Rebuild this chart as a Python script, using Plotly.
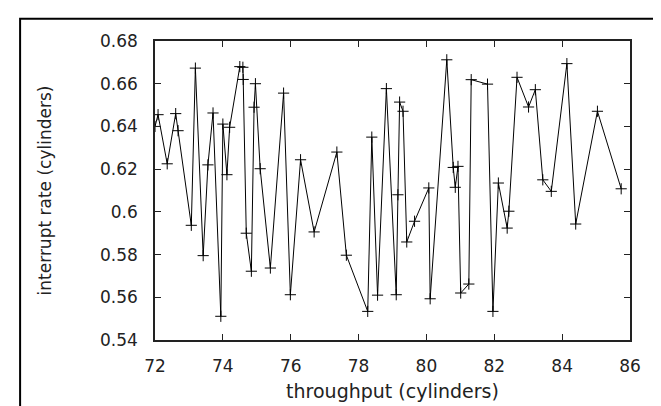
import plotly.graph_objects as go

# throughput vs interrupt rate
throughput = [72.0, 72.09, 72.36, 72.61, 72.68, 73.07, 73.19, 73.42, 73.56, 73.71,
              73.94, 74.0, 74.12, 74.2, 74.5, 74.59, 74.6, 74.69, 74.84, 74.92,
              74.96, 75.1, 75.4, 75.79, 75.99, 76.29, 76.69, 77.36, 77.64, 78.27,
              78.39, 78.56, 78.82, 79.11, 79.16, 79.21, 79.31, 79.42, 79.65, 80.07,
              80.11, 80.6, 80.79, 80.85, 80.93, 81.01, 81.25, 81.32, 81.8, 81.96,
              82.12, 82.38, 82.43, 82.67, 83.01, 83.21, 83.43, 83.68, 84.14, 84.4,
              85.04, 85.74]
interrupt_rate = [0.640, 0.6455, 0.6225, 0.646, 0.638, 0.5937, 0.6673, 0.5795, 0.622, 0.6463,
                  0.5511, 0.6411, 0.6174, 0.6396, 0.668, 0.6677, 0.662, 0.590, 0.5722, 0.649,
                  0.660, 0.6202, 0.5737, 0.6556, 0.5612, 0.6244, 0.5906, 0.628, 0.5797, 0.5534,
                  0.635, 0.561, 0.6577, 0.5612, 0.608, 0.6514, 0.6471, 0.5859, 0.5956, 0.6112,
                  0.5593, 0.6712, 0.6208, 0.6115, 0.6213, 0.562, 0.5662, 0.6619, 0.6598, 0.5534,
                  0.6135, 0.5924, 0.6003, 0.663, 0.6491, 0.6572, 0.615, 0.6096, 0.6694, 0.5943,
                  0.6471, 0.6108]

x_ticks = [72, 74, 76, 78, 80, 82, 84, 86]
y_ticks = [0.54, 0.56, 0.58, 0.6, 0.62, 0.64, 0.66, 0.68]
y_labels = ["0.54", "0.56", "0.58", "0.6", "0.62", "0.64", "0.66", "0.68"]

fig = go.Figure(go.Scatter(
    x=throughput, y=interrupt_rate,
    mode='lines+markers',
    line=dict(color='black', width=1),
    marker=dict(symbol='cross-thin', size=8, line=dict(color='black', width=1), color='black'),
    showlegend=False
))

axis_style = dict(
    showgrid=False, zeroline=False,
    showline=True, linecolor='#222', linewidth=1.5,
    mirror='ticks', ticks='inside', ticklen=6, tickcolor='#222', tickwidth=1,
    tickfont=dict(family='DejaVu Sans', size=17, color='#222'),
)

fig.update_layout(
    width=661, height=406,
    margin=dict(l=147, r=39, t=33, b=74),
    paper_bgcolor='white', plot_bgcolor='white',
    font=dict(family='DejaVu Sans', color='#222'),
    xaxis=dict(range=[72, 86], tickvals=x_ticks, ticklabelstandoff=10,
               title=dict(text='throughput (cylinders)', font=dict(size=19), standoff=10),
               **axis_style),
    yaxis=dict(range=[0.54, 0.68], tickvals=y_ticks, ticktext=y_labels, ticklabelstandoff=12,
               title=dict(text='interrupt rate (cylinders)', font=dict(size=17), standoff=44),
               **axis_style),
    shapes=[dict(type='rect', xref='paper', yref='paper',
                 x0=-0.284, x1=1.074, y0=-0.35, y1=1.074,
                 line=dict(color='black', width=2))]
)

fig.write_html("out.html")
